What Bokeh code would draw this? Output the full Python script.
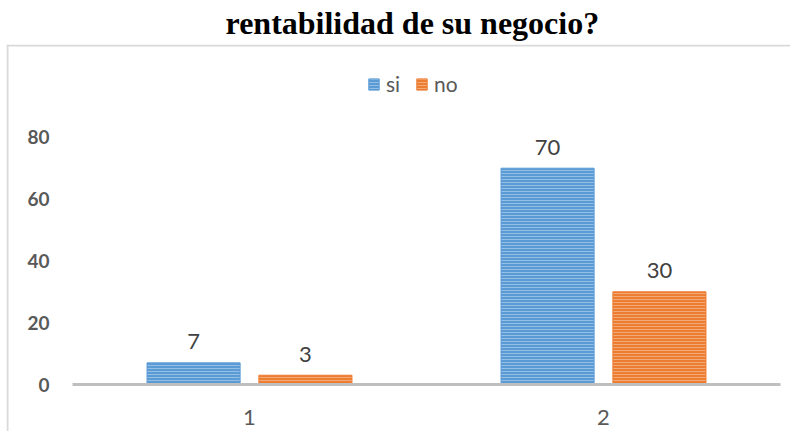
from bokeh.plotting import figure
from bokeh.models import (ColumnDataSource, Range1d, FixedTicker, LabelSet, Legend,
                          LegendItem, Span)
from bokeh.core.properties import value
from bokeh.transform import dodge
from bokeh.embed import file_html
from bokeh.resources import INLINE

# ---- data ----
categories = [1, 2]
cat_labels = ["1", "2"]
si_values = [7, 70]
no_values = [3, 30]
y_ticks = [0, 20, 40, 60, 80]
title_text = "rentabilidad de su negocio?"

source = ColumnDataSource(dict(
    x=categories,
    si=si_values,
    no=no_values,
    si_label=[str(v) for v in si_values],
    no_label=[str(v) for v in no_values],
))

# layout constants (pixels)
PX_X = 354.0   # px per category unit
PX_Y = 3.09    # px per value unit
FL, FR, FT, FB = 6, 790, 44, 431      # frame edges in canvas px
X0_PX, Y0_PX = 72, 384                # where x=0.5 and y=0 sit

x_start = 0.5 - (X0_PX - FL) / PX_X
x_end = x_start + (FR - FL) / PX_X
y_end = (Y0_PX - FT) / PX_Y
y_start = -(FB - Y0_PX) / PX_Y

p = figure(width=790, height=431, output_backend="svg", toolbar_location=None,
           x_range=Range1d(x_start, x_end), y_range=Range1d(y_start, y_end),
           min_border_left=FL, min_border_right=0,
           min_border_top=FT, min_border_bottom=0)

p.title.text = title_text
p.title.text_font = "Liberation Serif"
p.title.text_font_style = "bold"
p.title.text_font_size = "32px"
p.title.text_color = "black"
p.title.align = "left"
p.title.vertical_align = "top"
p.title.offset = 219
p.title.standoff = 4

p.outline_line_color = None
p.xgrid.visible = False
p.ygrid.visible = False
p.background_fill_color = "white"
p.border_fill_color = "white"

# chart-area border (top and left edges; the others lie outside the picture)
p.add_layout(Span(location=x_start + 1 / PX_X, dimension="height",
                  line_color="#D9D9D9", line_width=2))
p.add_layout(Span(location=y_end - 1 / PX_Y, dimension="width",
                  line_color="#D9D9D9", line_width=2))

BLUE = "#5B9BD5"
ORANGE = "#ED7D31"
W = 0.263
OFF = 0.158

r_si = p.vbar(x=dodge("x", -OFF, range=p.x_range), top="si", width=W, source=source,
              fill_color=BLUE, line_color=BLUE, line_width=1,
              hatch_pattern="horizontal_line", hatch_color="white",
              hatch_alpha=0.35, hatch_scale=3, hatch_weight=1)
r_no = p.vbar(x=dodge("x", OFF, range=p.x_range), top="no", width=W, source=source,
              fill_color=ORANGE, line_color=ORANGE, line_width=1,
              hatch_pattern="horizontal_line", hatch_color="white",
              hatch_alpha=0.35, hatch_scale=3, hatch_weight=1)

# category axis baseline
p.segment(x0=[categories[0] - 0.5], x1=[categories[-1] + 0.5], y0=[0], y1=[0],
          line_color="#BFBFBF", line_width=3)

for col, lab, off in (("si", "si_label", -OFF), ("no", "no_label", OFF)):
    p.add_layout(LabelSet(x=dodge("x", off, range=p.x_range), y=col, text=lab,
                          source=source, text_align="center", text_baseline="middle",
                          y_offset=21, text_font=value("Lato"),
                          text_font_size=value("22px"), text_color="#404040"))

# axes (labels pulled inside the chart area)
xa = p.xaxis[0]
xa.ticker = FixedTicker(ticks=categories)
xa.major_label_overrides = {c: l for c, l in zip(categories, cat_labels)}
xa.axis_line_color = None
xa.major_tick_line_color = None
xa.minor_tick_line_color = None
xa.major_tick_out = 0
xa.major_tick_in = 0
xa.major_label_standoff = -22
xa.major_label_text_line_height = 0.9
xa.major_label_text_font = "Lato"
xa.major_label_text_font_size = "22px"
xa.major_label_text_color = "#595959"

ya = p.yaxis[0]
ya.ticker = FixedTicker(ticks=y_ticks)
ya.axis_line_color = None
ya.major_tick_line_color = None
ya.minor_tick_line_color = None
ya.major_tick_out = 0
ya.major_tick_in = 0
ya.major_label_standoff = -43
ya.major_label_text_font = "Lato"
ya.major_label_text_font_style = "bold"
ya.major_label_text_font_size = "19px"
ya.major_label_text_color = "#595959"

legend = Legend(items=[LegendItem(label="si", renderers=[r_si]),
                       LegendItem(label="no", renderers=[r_no])],
                orientation="horizontal", location=(361, 335),
                glyph_width=13, glyph_height=14, label_standoff=6, spacing=9,
                padding=0, margin=0, border_line_color=None,
                background_fill_alpha=0,
                label_text_font="Lato", label_text_font_size="21px",
                label_text_color="#595959")
p.add_layout(legend)

open("out.html", "w").write(file_html(p, INLINE))
